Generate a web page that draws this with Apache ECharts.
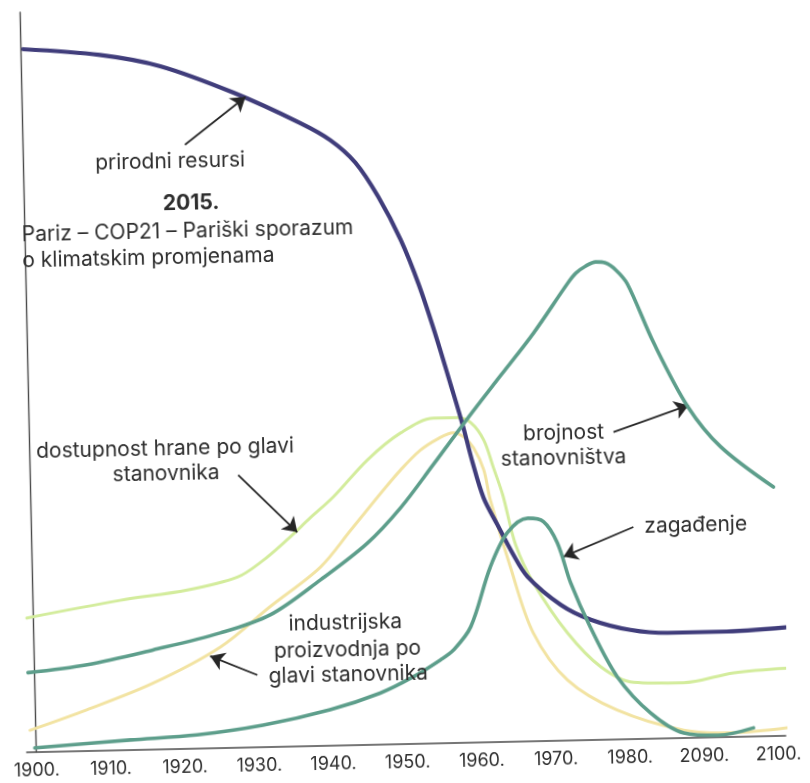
<!DOCTYPE html>
<html>
<head>
<meta charset="utf-8">
<script src="https://cdn.jsdelivr.net/npm/echarts@6/dist/echarts.min.js"></script>
<style>
  html, body { margin: 0; padding: 0; background: #ffffff; overflow: hidden; }
  #chart { width: 810px; height: 783px; transform: rotate(-1.25deg); transform-origin: 50% 50%; }
</style>
</head>
<body>
<div id="chart"></div>
<script>
// x positions are decade slots: 0 = "1900.", 10 = "2100."
const xLabels = ['1900.', '1910.', '1920.', '1930.', '1940.', '1950.', '1960.', '1970.', '1980.', '2090.', '2100.'];
const xTicks = [0, 1, 2, 3, 4, 5, 6, 7, 8, 9, 10];

const prirodniResursi = [[0.03,95.0],[1.06,94.0],[1.87,92.3],[2.85,88.5],[3.74,84.2],[4.14,81.8],[4.47,78.7],[4.77,74.0],[5.06,68.1],[5.29,62.0],[5.50,55.2],[5.69,48.4],[5.84,42.9],[5.96,37.9],[6.10,33.0],[6.28,29.3],[6.47,25.5],[6.67,22.2],[7.11,18.3],[7.51,16.2],[8.04,14.7],[8.54,14.2],[9.26,14.2],[10.13,14.6]];

const brojnostStanovnistva = [[-0.09,10.7],[0.71,11.6],[1.60,13.4],[2.51,15.5],[3.19,17.8],[3.88,22.4],[4.52,27.2],[4.98,31.9],[5.43,37.6],[5.91,43.8],[6.36,49.4],[6.82,55.1],[7.30,61.8],[7.41,63.1],[7.54,64.0],[7.68,64.55],[7.81,64.4],[7.95,63.4],[8.10,61.5],[8.44,53.4],[8.88,44.7],[9.31,39.2],[10.01,33.6]];

const dostupnostHrane = [[-0.09,18.1],[1.17,20.2],[2.08,21.4],[2.76,23.0],[3.10,25.1],[3.44,27.9],[3.76,30.8],[4.08,33.6],[4.55,38.5],[5.00,42.0],[5.45,43.9],[5.77,43.9],[5.95,43.2],[6.12,40.8],[6.24,37.1],[6.36,33.3],[6.52,26.5],[6.75,21.3],[7.19,14.5],[7.63,9.8],[8.07,7.6],[8.74,7.4],[9.42,8.6],[10.19,9.1]];

const industrijskaProizvodnja = [[-0.08,2.9],[0.69,5.5],[1.59,8.9],[2.51,13.6],[3.19,18.9],[3.88,24.1],[4.30,29.0],[4.75,34.3],[4.99,37.0],[5.26,39.6],[5.50,41.1],[5.71,41.9],[5.85,41.3],[5.98,39.8],[6.11,36.8],[6.19,32.7],[6.44,23.6],[6.73,14.6],[7.18,8.1],[7.84,3.9],[8.73,1.0],[9.40,0.5],[10.21,1.1]];

const zagadjenje = [[-0.02,0.5],[1.27,1.3],[2.17,1.8],[3.06,2.9],[3.97,4.8],[4.65,6.9],[5.10,9.0],[5.47,11.2],[5.65,12.5],[5.89,15.6],[6.17,23.6],[6.41,28.2],[6.69,30.1],[6.90,29.6],[7.08,26.7],[7.25,21.2],[7.50,15.2],[7.85,8.4],[8.29,3.4],[8.73,0.6],[9.19,0.2],[9.67,1.1]];

// annotation arrows: [tail, tip] in data units
const arrows = [
  [[2.18,81.6],[3.01,87.9]],
  [[2.80,36.8],[3.58,28.9]],
  [[3.00,9.7],[2.37,12.4]],
  [[7.87,41.5],[8.89,44.9]],
  [[8.11,28.6],[7.16,24.8]]
];

// annotation texts: [text, t, v, align, bold]
const notes = [
  ['prirodni resursi', 1.975, 79.3, 'center', false],
  ['2015.', 2.246, 73.7, 'center', true],
  ['Pariz – COP21 – Pariški sporazum', -0.045, 69.9, 'left', false],
  ['o klimatskim promjenama', -0.045, 66.4, 'left', false],
  ['dostupnost hrane po glavi', 1.823, 40.5, 'center', false],
  ['stanovnika', 1.829, 37.15, 'center', false],
  ['industrijska', 4.20, 16.5, 'center', false],
  ['proizvodnja po', 4.22, 12.8, 'center', false],
  ['glavi stanovnika', 4.225, 9.4, 'center', false],
  ['brojnost', 7.197, 41.5, 'center', false],
  ['stanovništva', 7.19, 38.1, 'center', false],
  ['zagađenje', 8.951, 28.7, 'center', false]
];

const FONT = 'Inter, "Noto Sans", sans-serif';
const chart = echarts.init(document.getElementById('chart'));

function curve(name, data, color, width, z) {
  return {
    name, type: 'line', data, smooth: 0.33, symbol: 'none', clip: false, z,
    lineStyle: { color, width, cap: 'round', join: 'round' },
    emphasis: { disabled: true }, silent: true
  };
}

const option = {
  animation: false,
  backgroundColor: '#ffffff',
  grid: { left: 19, right: 32, top: 4, bottom: 39.5 },
  xAxis: {
    type: 'value', min: -0.13, max: 10.1,
    axisLine: { show: true, lineStyle: { color: '#4a4a4a', width: 1.6 } },
    axisTick: { show: false },
    splitLine: { show: false },
    axisLabel: {
      customValues: xTicks,
      formatter: v => xLabels[Math.round(v)] || '',
      margin: 10, fontSize: 18, color: '#2e2e2e', fontFamily: FONT
    }
  },
  yAxis: {
    type: 'value', min: 0, max: 100,
    axisLine: { show: true, lineStyle: { color: '#4a4a4a', width: 1.4 } },
    axisTick: { show: false }, axisLabel: { show: false }, splitLine: { show: false }
  },
  series: [
    curve('industrijska proizvodnja po glavi stanovnika', industrijskaProizvodnja, '#f2e3a2', 3, 2),
    curve('dostupnost hrane po glavi stanovnika', dostupnostHrane, '#d3ec9c', 3, 3),
    Object.assign(curve('prirodni resursi', prirodniResursi, '#403d7b', 4.2, 4), {
      markLine: {
        silent: true, symbol: ['none', 'arrow'], symbolSize: 14,
        label: { show: false },
        lineStyle: { color: '#262626', width: 1.8, type: 'solid' },
        emphasis: { disabled: true },
        data: arrows.map(a => [{ coord: a[0] }, { coord: a[1] }])
      }
    }),
    curve('brojnost stanovništva', brojnostStanovnistva, '#5d9e8b', 3.6, 5),
    curve('zagađenje', zagadjenje, '#5d9e8b', 3.6, 6)
  ]
};
chart.setOption(option);

const graphics = notes.map(n => {
  const p = chart.convertToPixel({ xAxisIndex: 0, yAxisIndex: 0 }, [n[1], n[2]]);
  return {
    type: 'text', x: p[0], y: p[1], silent: true, z: 100,
    style: {
      text: n[0], fill: '#2e2e2e', align: n[3], verticalAlign: 'middle',
      font: (n[4] ? 'bold ' : '') + '21px ' + FONT
    }
  };
});
chart.setOption({ graphic: graphics });
</script>
</body>
</html>
